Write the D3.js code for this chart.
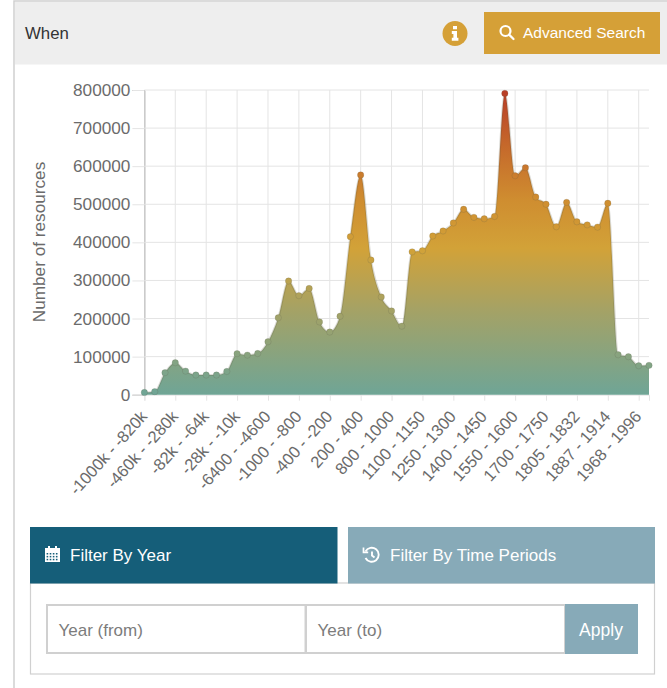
<!DOCTYPE html>
<html>
<head>
<meta charset="utf-8">
<script src="https://cdn.jsdelivr.net/npm/d3@7"></script>
<style>
  html, body { margin: 0; padding: 0; background: #fff; }
  svg { display: block; font-family: "Liberation Sans", Arial, sans-serif; }
  .tick text { fill: #6b6b6b; }
</style>
</head>
<body>
<div id="chart"></div>
<script>
// values, one per bucket (labels only on every third)
const resourceCounts = [
    6000, 8000, 57800, 84000, 62000, 51700, 51700, 51700, 61000, 107700,
    104000, 108000, 139000, 202000, 298500, 260000, 279000, 191000, 164500, 205800,
    415000, 577000, 353600, 256500, 220000, 180000, 375000, 378000, 416700, 430000,
    451000, 486800, 465700, 462000, 468000, 791000, 575000, 596000, 519000, 500000,
    441000, 505000, 454000, 446000, 440000, 502500, 105000, 99800, 76000, 77000
];
const periodLabels = [
    "-1000k - -820k", "-460k - -280k", "-82k - -64k", "-28k - -10k", "-6400 - -4600",
    "-1000 - -800", "-400 - -200", "200 - 400", "800 - 1000", "1100 - 1150",
    "1250 - 1300", "1400 - 1450", "1550 - 1600", "1700 - 1750", "1805 - 1832",
    "1887 - 1914", "1968 - 1996"
];
const yTicks = [0, 100000, 200000, 300000, 400000, 500000, 600000, 700000, 800000];
const labelStep = 3;

const width = 667, height = 688;
const plotLeft = 144.4, plotRight = 649, plotTop = 90, plotBottom = 394.7;

const svg = d3.select("#chart").append("svg")
    .attr("width", width)
    .attr("height", height);

// panel frame + header
svg.append("rect").attr("x", 14).attr("y", 1).attr("width", 670).attr("height", 700)
    .attr("fill", "#fff").attr("stroke", "#cfcfcf").attr("stroke-width", 1.5);
svg.append("rect").attr("x", 15).attr("y", 2).attr("width", 652).attr("height", 62.5).attr("fill", "#eeeeee");
svg.append("text").attr("x", 25).attr("y", 39).attr("font-size", 16.8).attr("fill", "#333").text("When");

const gold = "#d5a037";
const info = svg.append("g").attr("transform", "translate(455,33.5)");
info.append("circle").attr("r", 12.5).attr("fill", gold);
info.append("path").attr("fill", "#fff")
    .attr("d", "M-2,-7.6h4v3.4h-4z M-3.2,-2.4h5.2v6.6h1.4v3h-6.6v-3h1.6v-3.6h-1.6z");

svg.append("rect").attr("x", 484).attr("y", 12).attr("width", 176).attr("height", 42).attr("fill", gold);
const searchIcon = svg.append("g").attr("transform", "translate(505.5,31)")
    .attr("fill", "none").attr("stroke", "#fff").attr("stroke-width", 2.2);
searchIcon.append("circle").attr("r", 5);
searchIcon.append("line").attr("x1", 3.6).attr("y1", 3.6).attr("x2", 8).attr("y2", 8).attr("stroke-linecap", "round");
svg.append("text").attr("x", 523).attr("y", 38).attr("font-size", 15.5).attr("fill", "#fff").text("Advanced Search");

// chart
const x = d3.scaleLinear().domain([0, resourceCounts.length - 1]).range([plotLeft, plotRight]);
const y = d3.scaleLinear().domain([0, 800000]).range([plotBottom, plotTop]);

const defs = svg.append("defs");
const grad = defs.append("linearGradient").attr("id", "areaFill")
    .attr("gradientUnits", "userSpaceOnUse")
    .attr("x1", 0).attr("x2", 0).attr("y1", y(800000)).attr("y2", y(0));
[
    [0, "#b83c26"],
    [0.18, "#c5682b"],
    [0.36, "#cf8d30"],
    [0.52, "#d2a238"],
    [0.72, "#a5a265"],
    [1, "#6fa596"]
].forEach(s => grad.append("stop").attr("offset", s[0]).attr("stop-color", s[1]));

const tickIndexes = periodLabels.map((d, i) => i * labelStep);

// y axis with grid
const yAxis = svg.append("g")
    .attr("transform", `translate(${plotLeft},0)`)
    .call(d3.axisLeft(y).tickValues(yTicks).tickSize(12).tickPadding(2).tickFormat(d3.format("d")));
yAxis.select(".domain").attr("stroke", "#aaa");
yAxis.selectAll(".tick line").attr("stroke", "#e4e4e4");
yAxis.selectAll(".tick text").attr("font-size", 17.2).attr("font-family", "inherit");
svg.append("g").selectAll("line")
    .data(yTicks.filter(d => d > 0))
    .enter().append("line")
    .attr("x1", plotLeft).attr("x2", plotRight)
    .attr("y1", d => y(d)).attr("y2", d => y(d))
    .attr("stroke", "#e4e4e4");

// x axis with grid
const xAxis = svg.append("g")
    .attr("transform", `translate(0,${plotBottom})`)
    .call(d3.axisBottom(x).tickValues(tickIndexes).tickSize(6).tickPadding(5)
        .tickFormat((d, i) => periodLabels[i]));
xAxis.select(".domain").attr("stroke", "#e4e4e4");
xAxis.selectAll(".tick line").attr("stroke", "#e4e4e4");
xAxis.selectAll(".tick text")
    .attr("font-size", 16.5).attr("font-family", "inherit")
    .attr("text-anchor", "end")
    .attr("dy", null)
    .attr("transform", "translate(-5,15) rotate(-48)");
svg.append("g").selectAll("line")
    .data(tickIndexes.slice(1))
    .enter().append("line")
    .attr("x1", d => x(d)).attr("x2", d => x(d))
    .attr("y1", plotTop).attr("y2", plotBottom)
    .attr("stroke", "#e4e4e4");

svg.append("text")
    .attr("transform", "translate(45,242) rotate(-90)")
    .attr("text-anchor", "middle").attr("font-size", 17.2).attr("fill", "#6b6b6b")
    .text("Number of resources");

// area, line, points
const curve = d3.curveMonotoneX;
const area = d3.area().x((d, i) => x(i)).y0(plotBottom).y1(d => y(d)).curve(curve);
const line = d3.line().x((d, i) => x(i)).y(d => y(d)).curve(curve);

const plot = svg.append("g");
plot.append("path").datum(resourceCounts).attr("d", area).attr("fill", "url(#areaFill)");
plot.append("path").datum(resourceCounts).attr("d", line)
    .attr("fill", "none").attr("stroke", "rgba(90,90,70,0.22)").attr("stroke-width", 2);

svg.append("g").selectAll("circle")
    .data(resourceCounts)
    .enter().append("circle")
    .attr("cx", (d, i) => x(i))
    .attr("cy", d => y(d))
    .attr("r", 3.2)
    .attr("fill", "url(#areaFill)")
    .attr("stroke", "rgba(90,90,70,0.18)");

// filter tabs
const tabDark = "#155e79", tabLight = "#87aab8";
svg.append("rect").attr("x", 30.5).attr("y", 583).attr("width", 624).attr("height", 91)
    .attr("fill", "#fff").attr("stroke", "#d0d0d0").attr("stroke-width", 1.2);
svg.append("rect").attr("x", 30).attr("y", 527).attr("width", 307.5).attr("height", 56.5).attr("fill", tabDark);
svg.append("rect").attr("x", 348).attr("y", 527).attr("width", 307).attr("height", 56.5).attr("fill", tabLight);

const cal = svg.append("g").attr("transform", "translate(45,546)");
cal.append("path").attr("fill", "#fff")
    .attr("d", "M0,4h15v12h-15z M3,0h2v3h-2z M10,0h2v3h-2z M0,2h15v3h-15z");
cal.selectAll("rect").data(d3.range(12)).enter().append("rect")
    .attr("x", d => 1.6 + (d % 4) * 3.1).attr("y", d => 7 + Math.floor(d / 4) * 2.9)
    .attr("width", 1.6).attr("height", 1.5).attr("fill", tabDark);
svg.append("text").attr("x", 70).attr("y", 561).attr("font-size", 17).attr("fill", "#fff").text("Filter By Year");

const hist = svg.append("g").attr("transform", "translate(372,555)")
    .attr("fill", "none").attr("stroke", "#fff").attr("stroke-width", 1.9);
hist.append("path").attr("d", "M-6.5,-3.5A7,7 0 1 1 -6.5,3");
hist.append("path").attr("d", "M0,-3.5V0.5L2.5,2.5");
hist.append("path").attr("d", "M-8.5,-7.5V-2.6H-3.8").attr("stroke-width", 1.7);
svg.append("text").attr("x", 390).attr("y", 561).attr("font-size", 17).attr("fill", "#fff").text("Filter By Time Periods");

// inputs
[[47, 258.5, "Year (from)", 58.5], [306, 259, "Year (to)", 317.5]].forEach(b => {
    svg.append("rect").attr("x", b[0]).attr("y", 605).attr("width", b[1]).attr("height", 48)
        .attr("fill", "#fff").attr("stroke", "#d0d0d0").attr("stroke-width", 2);
    svg.append("text").attr("x", b[3]).attr("y", 636).attr("font-size", 17).attr("fill", "#7c7c7c").text(b[2]);
});
svg.append("rect").attr("x", 565).attr("y", 604).attr("width", 73).attr("height", 50).attr("fill", tabLight);
svg.append("text").attr("x", 601).attr("y", 636).attr("text-anchor", "middle")
    .attr("font-size", 17.5).attr("fill", "#fff").text("Apply");
</script>
</body>
</html>
